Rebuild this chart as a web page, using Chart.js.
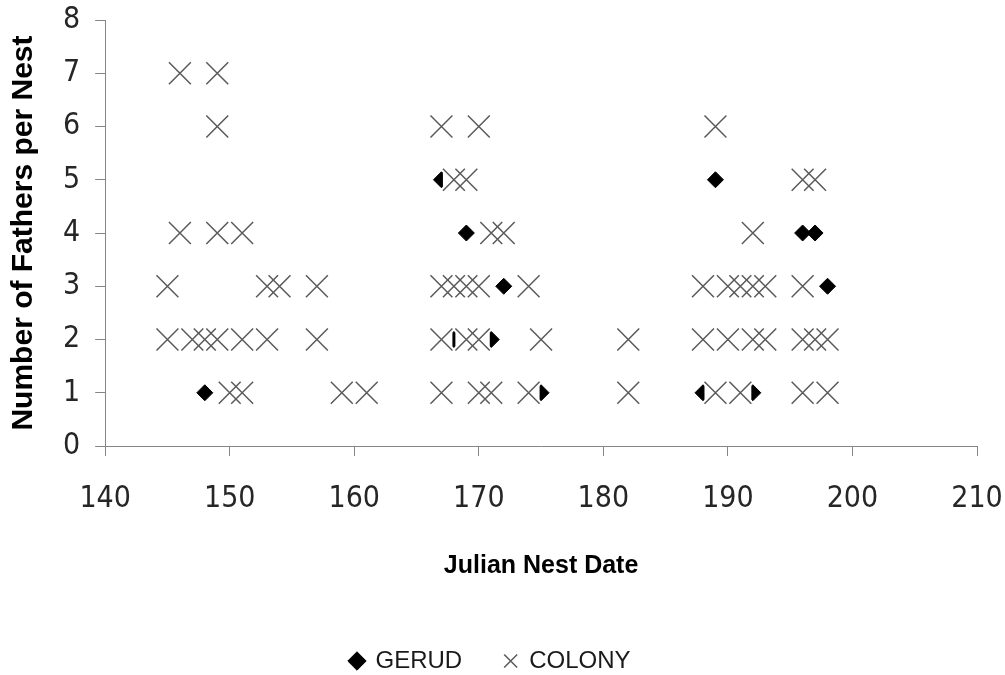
<!DOCTYPE html>
<html>
<head>
<meta charset="utf-8">
<title>Fathers per nest</title>
<script src="https://cdn.jsdelivr.net/npm/chart.js@4.4.1/dist/chart.umd.min.js"></script>
<style>
  html, body { margin: 0; padding: 0; background: #fff; }
  #wrap { width: 1005px; height: 675px; }
</style>
</head>
<body>
<div id="wrap"><canvas id="chart" width="1005" height="675"></canvas></div>
<script>
// ── Data ──

const gerudDates    = [148, 167, 169, 172, 168, 171, 175, 189, 196, 197, 198, 188, 192];
const gerudFathers  = [  1,   5,   4,   3,   2,   2,   1,   5,   4,   4,   3,   1,   1];

const colonyDates = [
  146, 149,
  149, 167, 170, 189,
  168, 169, 196, 197,
  146, 149, 151, 171, 172, 192,
  145, 153, 154, 157, 167, 168, 169, 170, 174, 188, 190, 191, 192, 193, 196,
  145, 147, 148, 149, 151, 153, 157, 167, 169, 170, 175, 182, 188, 190, 192, 193, 196, 197, 198,
  150, 151, 159, 161, 167, 170, 171, 174, 182, 189, 191, 196, 198
];
const colonyFathers = [
  7, 7,
  6, 6, 6, 6,
  5, 5, 5, 5,
  4, 4, 4, 4, 4, 4,
  3, 3, 3, 3, 3, 3, 3, 3, 3, 3, 3, 3, 3, 3, 3,
  2, 2, 2, 2, 2, 2, 2, 2, 2, 2, 2, 2, 2, 2, 2, 2, 2, 2, 2,
  1, 1, 1, 1, 1, 1, 1, 1, 1, 1, 1, 1, 1
];

const xTicks = [140, 150, 160, 170, 180, 190, 200, 210];
const yTicks = [0, 1, 2, 3, 4, 5, 6, 7, 8];

const toPoints = (xs, ys) => xs.map((x, i) => ({ x, y: ys[i] }));
const gerudPts = toPoints(gerudDates, gerudFathers);
const colonyPts = toPoints(colonyDates, colonyFathers);

// ── Styles ──

const AXIS = '#868686';
const TICK_FONT = { family: "'Liberation Sans Narrow', 'DejaVu Sans Condensed', 'Liberation Sans'", size: 30 };
const TITLE_FAMILY = "'Liberation Sans', Arial, sans-serif";

// ── Chart ──

new Chart(document.getElementById('chart'), {
  type: 'scatter',
  data: {
    datasets: [
      {
        label: 'GERUD',
        data: gerudPts,
        pointStyle: 'rectRot',
        pointRadius: 8,
        backgroundColor: '#000',
        borderColor: '#000',
        borderWidth: 1,
        order: 3
      },
      {
        // white marker fill of the X markers (drawn before the X strokes)
        label: 'colony-fill',
        data: colonyPts,
        pointStyle: 'rect',
        pointRadius: 15.5,
        backgroundColor: '#fff',
        borderWidth: 0,
        order: 2
      },
      {
        label: 'COLONY',
        data: colonyPts,
        pointStyle: 'crossRot',
        pointRadius: 15.5,
        backgroundColor: '#fff',
        borderColor: '#5a5a5a',
        borderWidth: 1.5,
        order: 1
      }
    ]
  },
  options: {
    responsive: false,
    animation: false,
    events: [],
    layout: { padding: { left: 4, right: 28, top: 20, bottom: -8 } },
    plugins: {
      tooltip: { enabled: false },
      legend: {
        position: 'bottom',
        labels: {
          usePointStyle: true,
          boxHeight: 13,
          boxWidth: 13,
          padding: 6,
          color: '#1a1a1a',
          font: { family: TITLE_FAMILY, size: 24 },
          generateLabels: chart => {
            const items = Chart.defaults.plugins.legend.labels.generateLabels(chart)
              .filter(it => it.text !== 'colony-fill')
              .sort((a, b) => a.datasetIndex - b.datasetIndex);
            items.forEach(it => { if (it.text === 'GERUD') it.text = 'GERUD\u2003\u2002'; });
            return items;
          }
        }
      }
    },
    scales: {
      x: {
        type: 'linear',
        min: 140,
        max: 210,
        afterBuildTicks: s => { s.ticks = xTicks.map(v => ({ value: v })); },
        afterFit: s => { s.paddingLeft = 0; s.paddingRight = 0; },
        ticks: { color: '#262626', font: TICK_FONT, padding: 25 },
        grid: { drawOnChartArea: false, drawTicks: true, tickLength: 10, color: AXIS },
        border: { color: AXIS, width: 1 },
        title: {
          display: true,
          text: 'Julian Nest Date',
          color: '#000',
          font: { family: TITLE_FAMILY, size: 25, weight: 'bold' },
          padding: { top: 9, bottom: 62 }
        }
      },
      y: {
        type: 'linear',
        min: 0,
        max: 8,
        afterBuildTicks: s => { s.ticks = yTicks.map(v => ({ value: v })); },
        afterFit: s => { s.paddingTop = 0; s.paddingBottom = 0; },
        ticks: { color: '#262626', font: TICK_FONT, padding: 15 },
        grid: { drawOnChartArea: false, drawTicks: true, tickLength: 10, color: AXIS },
        border: { color: AXIS, width: 1 },
        title: {
          display: true,
          text: 'Number of Fathers per Nest',
          color: '#000',
          font: { family: TITLE_FAMILY, size: 30, weight: 'bold' },
          padding: { top: 2, bottom: 6 }
        }
      }
    }
  }
});
</script>
</body>
</html>
